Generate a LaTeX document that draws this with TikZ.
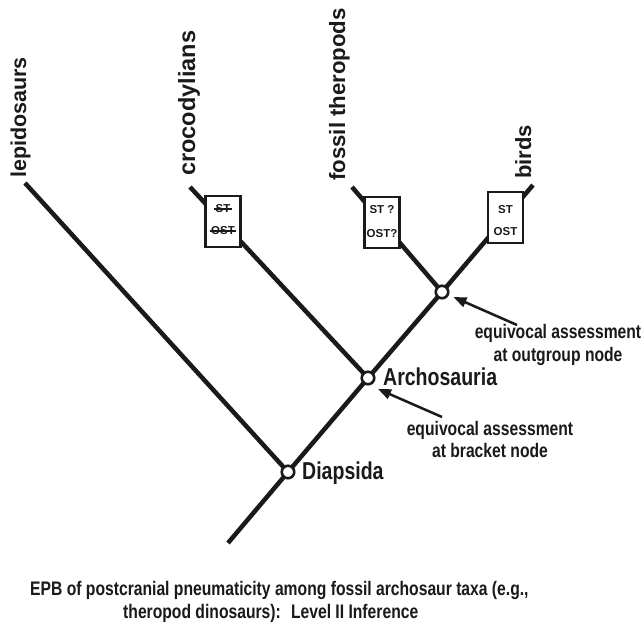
\documentclass[tikz,border=0pt]{standalone}
\usepackage{fontspec}
\usetikzlibrary{arrows.meta}
\newfontfamily\labfont{Liberation Sans Bold}
\newfontfamily\condfont{Liberation Sans Bold}[FakeStretch=0.8]
\definecolor{ink}{HTML}{1A1A1A}
\begin{document}
\begin{tikzpicture}[x=1pt,y=-1pt,
 branch/.style={line width=4.5pt, draw=ink},
 junction/.style={circle, draw=ink, line width=2.6pt, fill=white, minimum size=12.5pt, inner sep=0pt},
 taxon/.style={font=\labfont\fontsize{#1}{26}\selectfont, text=ink, rotate=90, anchor=base west, inner sep=0pt},
 clade/.style={font=\condfont\fontsize{24.4}{28}\selectfont, text=ink, anchor=base west, inner sep=0pt},
 note/.style={font=\condfont\fontsize{19.6}{23}\selectfont, text=ink, anchor=base, inner sep=0pt},
 charbox/.style={draw=ink, fill=white, line width=2.8pt, minimum width=35pt, minimum height=51pt, inner sep=0pt},
 chartext/.style={font=\labfont\fontsize{11.5}{13}\selectfont, text=ink, inner sep=0pt},
 strike/.style={draw=ink, line width=1.3pt},
 pointer/.style={draw=ink, line width=2.5pt, -{Triangle[length=13pt,width=10pt]}},
 captext/.style={font=\condfont\fontsize{19.6}{23}\selectfont, text=ink, anchor=base west, inner sep=0pt}]
\useasboundingbox (0,0) rectangle (642,630);
\fill[white] (0,0) rectangle (642,630);

% branch points and tips
\coordinate (root) at (228,543);
\coordinate (pDia) at (288,472);
\coordinate (pArch) at (368,378);
\coordinate (pOut) at (442,292);
\coordinate (tLepi) at (25,183);
\coordinate (tCroc) at (190,187);
\coordinate (tFoss) at (352,187);
\coordinate (tBird) at (533,185);

% branches
\draw[branch] (root) -- (pDia) -- (pArch) -- (pOut) -- (tBird);
\draw[branch] (pDia) -- (tLepi);
\draw[branch] (pArch) -- (tCroc);
\draw[branch] (pOut) -- (tFoss);

% character boxes
\node[charbox] (boxCroc) at (223,221.5) {};
\node[chartext] (stCroc) at (223,209) {ST};
\node[chartext] (ostCroc) at (223,231) {OST};
\draw[strike] ([xshift=-1.5pt]stCroc.west) -- ([xshift=1.5pt]stCroc.east);
\draw[strike] ([xshift=-1pt]ostCroc.west) -- ([xshift=1pt]ostCroc.east);

\node[charbox] (boxFoss) at (382,222.5) {};
\node[chartext] (stFoss) at (382,209.5) {ST ?};
\node[chartext] (ostFoss) at (382,234) {OST?};

\node[charbox] (boxBird) at (505.5,217.5) {};
\node[chartext] (stBird) at (505.5,210) {ST};
\node[chartext] (ostBird) at (505.5,232) {OST};

% junctions
\node[junction] (nDia) at (pDia) {};
\node[junction] (nArch) at (pArch) {};
\node[junction] (nOut) at (pOut) {};

% taxon labels
\node[taxon=21.5] (lLepi) at (26,178) {lepidosaurs};
\node[taxon=23.5] (lCroc) at (195,176) {crocodylians};
\node[taxon=22.2] (lFoss) at (345,181) {fossil theropods};
\node[taxon=22] (lBird) at (531,179) {birds};

% clade labels
\node[clade] (lArch) at (383,385) {Archosauria};
\node[clade] (lDia) at (302,479) {Diapsida};

% notes
\node[note] (nOut1) at (558,338) {equivocal assessment};
\node[note] (nOut2) at (558,361) {at outgroup node};
\node[note] (nBr1) at (490,435) {equivocal assessment};
\node[note] (nBr2) at (490,457) {at bracket node};

% pointers
\coordinate (aOutTail) at (517,325);
\draw[pointer, shorten >=5pt] (aOutTail) -- (nOut);
\coordinate (aBrTail) at (442,417);
\coordinate (aBrTip) at (378,389);
\draw[pointer] (aBrTail) -- (aBrTip);

% caption
\node[captext] (cap1) at (30,595) {EPB of postcranial pneumaticity among fossil archosaur taxa (e.g.,};
\node[captext] (cap2) at (123,618) {theropod dinosaurs):~ Level II Inference};
\end{tikzpicture}
\end{document}
